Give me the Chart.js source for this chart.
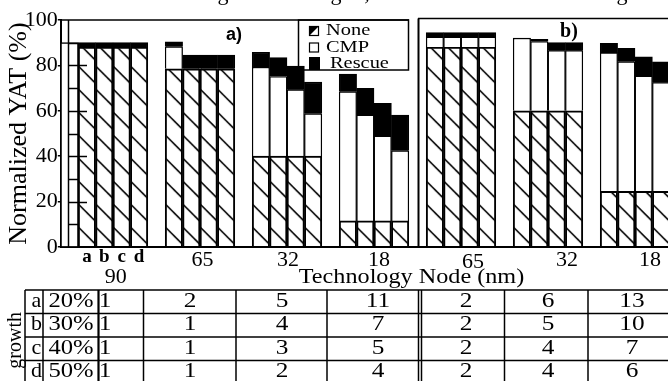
<!DOCTYPE html>
<html>
<head>
<meta charset="utf-8">
<script src="https://cdn.jsdelivr.net/npm/chart.js@4.4.0/dist/chart.umd.min.js"></script>
<style>
  html, body { margin: 0; padding: 0; background: #fff; overflow: hidden; }
  canvas { display: block; }
</style>
</head>
<body>
<canvas id="yat" width="672" height="381"></canvas>
<script>
// Daten: je Technologieknoten 4 Balken (a-d), Reihenfolge None / CMP / Rescue
const nodesA = ['90', '65', '32', '18'];
const nodesB = ['65', '32', '18'];
const barKeys = ['a', 'b', 'c', 'd'];

const noneA   = [88, 88, 88, 88,  78.5, 78.5, 78.5, 78.5,  40, 40, 40, 40,  11.5, 11.5, 11.5, 11.5];
const cmpA    = [0, 0, 0, 0,      9.7, 0, 0, 0,            39.2, 35.1, 29.3, 18.7,  56.9, 46.6, 37.4, 30.9];
const rescueA = [2, 2, 2, 2,      2.2, 6.1, 6.1, 6.1,      6.6, 8.3, 10.4, 13.9,    7.8, 11.8, 14.4, 15.7];

const noneB   = [88, 88, 88, 88,  60, 60, 60, 60,  24.5, 24.5, 24.5, 24.5];
const cmpB    = [4.5, 4.5, 4.5, 4.5,  32, 30.5, 26.5, 26.5,  61.1, 57.1, 50.8, 47.9];
const rescueB = [2, 2, 2, 2,      0, 1, 3.5, 3.5,  4.1, 5.9, 8.5, 9.2];

// weisser Balken links vom 90nm-Block (halb hinter der Achse)
const strayBarCmp = 90;

const seriesNames = ['None', 'CMP', 'Rescue'];

// Tabelle unten
const growthKeys  = ['a', 'b', 'c', 'd'];
const growthRates = ['20%', '30%', '40%', '50%'];
const tableA = [[1, 2, 5, 11], [1, 1, 4, 7], [1, 1, 3, 5], [1, 1, 2, 4]];
const tableB = [[2, 6, 13], [2, 5, 10], [2, 4, 7], [2, 4, 6]];

// Slots aufbauen: pro Knoten 1 Luecke + 4 Balken
const labels = [], none = [], cmp = [], rescue = [];
function addGap(c) {
  labels.push(''); none.push(null); cmp.push(c); rescue.push(null);
}
function addGroup(n, c, r, start) {
  for (let i = 0; i < 4; i++) {
    labels.push(barKeys[i]);
    none.push(n[start + i]); cmp.push(c[start + i]); rescue.push(r[start + i]);
  }
}
nodesA.forEach((_, g) => { addGap(g === 0 ? strayBarCmp : null); addGroup(noneA, cmpA, rescueA, g * 4); });
nodesB.forEach((_, g) => { addGap(null); addGroup(noneB, cmpB, rescueB, g * 4); });

const SERIF = '"Liberation Serif", "Times New Roman", serif';

// Schraffur fuer "None"
function makeHatch() {
  const t = document.createElement('canvas');
  t.width = 87; t.height = 23;
  const g = t.getContext('2d');
  g.strokeStyle = '#000';
  g.lineWidth = 1.6;
  for (let k = 0; k < 5; k++) {
    const x0 = k * 17.4;
    for (const y0 of [-23, 0, 23]) {
      g.beginPath();
      g.moveTo(x0, y0 + 3);
      g.lineTo(x0 + 17.4, y0 + 3 + 17.4);
      g.stroke();
    }
  }
  return g.createPattern(t, 'repeat');
}
const hatch = makeHatch();

// Positionen der Beschriftungen (Layout)
const nodeLabelXA = [115.8, 202.5, 288, 379];
const nodeLabelXB = [473, 567, 650];
const tableColX = [105, 190, 282, 378, 466, 548, 632];
const tableRowY = [290, 313.5, 337, 360.5, 384];
const tableVLines = [25, 43, 143.5, 236, 327, 504.5, 588];

function txt(ctx, s, x, y, font, align, sx) {
  ctx.save();
  ctx.font = font;
  ctx.textAlign = align || 'center';
  ctx.textBaseline = 'alphabetic';
  ctx.translate(x, y);
  if (sx) ctx.scale(sx, 1);
  ctx.fillText(s, 0, 0);
  ctx.restore();
}
function line(ctx, x1, y1, x2, y2, w) {
  ctx.lineWidth = w || 1.5;
  ctx.beginPath(); ctx.moveTo(x1, y1); ctx.lineTo(x2, y2); ctx.stroke();
}

const decor = {
  id: 'decor',
  beforeDatasetsDraw(chart) {
    const { ctx, chartArea } = chart;
    hatch.setTransform(new DOMMatrix([1, 0, 0, 1, chartArea.left, chartArea.bottom]));
    // Legende (wird von den Balken ueberdeckt)
    ctx.save();
    ctx.fillStyle = '#fff'; ctx.strokeStyle = '#000';
    ctx.fillRect(298, 20, 111, 50);
    ctx.lineWidth = 1.5;
    ctx.strokeRect(298.5, 20, 110, 50);
    ctx.lineWidth = 1.2;
    ctx.strokeRect(309.5, 26.5, 9, 9);
    ctx.fillStyle = '#000';
    ctx.beginPath(); ctx.moveTo(309.5, 26.5); ctx.lineTo(318.5, 26.5); ctx.lineTo(309.5, 35.5); ctx.fill();
    ctx.strokeRect(309.5, 43, 9, 9);
    ctx.fillRect(309, 57, 11, 13);
    ctx.fillStyle = '#000';
    txt(ctx, 'None', 326, 35, '17px ' + SERIF, 'left', 1.2);
    txt(ctx, 'CMP', 326, 51.5, '17px ' + SERIF, 'left', 1.2);
    txt(ctx, 'Rescue', 330, 68, '17px ' + SERIF, 'left', 1.2);
    ctx.restore();
  },
  afterDatasetsDraw(chart) {
    const { ctx, scales: { y } } = chart;
    ctx.save();
    ctx.strokeStyle = '#000';
    // Rahmen
    line(ctx, 62, 20, 409, 20, 1.5);
    line(ctx, 68.5, 20, 68.5, 247, 1.5);
    line(ctx, 418.5, 18.5, 418.5, 247, 2);
    line(ctx, 418, 18.5, 672, 18.5, 1.5);
    // Skalenstriche nach innen
    for (let v = 10; v < 100; v += 10) {
      const py = Math.round(y.getPixelForValue(v)) + 0.5;
      line(ctx, 68, py, v % 20 === 0 ? 87 : 78, py, 1.5);
    }
    ctx.restore();
  },
  afterDraw(chart) {
    const { ctx, scales: { x } } = chart;
    ctx.save();
    ctx.fillStyle = '#000'; ctx.strokeStyle = '#000';
    // abgeschnittene Bildunterschrift oben
    ['g', 'g', ',', 'g'].forEach((s, i) => txt(ctx, s, [223, 336, 367, 622][i], 0, '22px ' + SERIF));
    // Panel-Marken
    txt(ctx, 'a)', 234, 40, 'bold 18px "Liberation Sans", Arial, sans-serif');
    txt(ctx, 'b)', 569, 37, 'bold 20px ' + SERIF);
    // a b c d unter dem 90nm-Block
    barKeys.forEach((k, i) => txt(ctx, k, x.getPixelForValue(1 + i), 261.5, 'bold 19px ' + SERIF));
    nodesA.forEach((n, i) => txt(ctx, n, nodeLabelXA[i], i === 0 ? 282.5 : 265.5, '22px ' + SERIF));
    nodesB.forEach((n, i) => txt(ctx, n, nodeLabelXB[i], i === 0 ? 268 : 266, '22px ' + SERIF));
    txt(ctx, 'Technology Node (nm)', 411.5, 283, '22px ' + SERIF, 'center', 1.1);

    // Tabelle
    tableRowY.forEach(ry => line(ctx, 25, ry, 672, ry, 1.5));
    tableVLines.forEach(vx => line(ctx, vx, 290, vx, 381, 1.5));
    line(ctx, 98.5, 290, 98.5, 381, 2.2);
    line(ctx, 418.5, 290, 418.5, 381, 1.5);
    line(ctx, 421.5, 290, 421.5, 381, 1.5);
    const base = [306.5, 330, 353.5, 377];
    growthKeys.forEach((k, r) => {
      txt(ctx, k, 36.5, base[r], '22px ' + SERIF);
      txt(ctx, growthRates[r], 71, base[r], '22px ' + SERIF, 'center', 1.12);
      tableA[r].forEach((v, c) => txt(ctx, String(v), tableColX[c], base[r], '22px ' + SERIF, 'center', 1.15));
      tableB[r].forEach((v, c) => txt(ctx, String(v), tableColX[4 + c], base[r], '22px ' + SERIF, 'center', 1.15));
    });
    ctx.save();
    ctx.translate(21, 312);
    ctx.rotate(-Math.PI / 2);
    ctx.font = '20px ' + SERIF;
    ctx.textAlign = 'right';
    ctx.fillText('growth', 0, 0);
    ctx.restore();
    ctx.restore();
  }
};

const chart = new Chart(document.getElementById('yat'), {
  type: 'bar',
  data: {
    labels: labels,
    datasets: [
      { label: seriesNames[0], data: none,   backgroundColor: hatch,  borderColor: '#000', borderWidth: 1.3 },
      { label: seriesNames[1], data: cmp,    backgroundColor: '#fff', borderColor: '#000', borderWidth: 1.3 },
      { label: seriesNames[2], data: rescue, backgroundColor: '#000', borderColor: '#000', borderWidth: 1.3 }
    ]
  },
  options: {
    responsive: false,
    animation: false,
    barPercentage: 1,
    categoryPercentage: 1,
    layout: { padding: { left: 0, right: 2.2, top: 20, bottom: 134 } },
    plugins: { legend: { display: false }, tooltip: { enabled: false } },
    scales: {
      x: {
        stacked: true,
        grid: { display: false, drawTicks: false },
        ticks: { display: false },
        border: { display: true, color: '#000', width: 2 },
        afterFit: s => { s.height = 0; }
      },
      y: {
        stacked: true,
        min: 0,
        max: 100,
        afterFit: s => { s.width = 60.8; },
        border: { display: true, color: '#000', width: 2 },
        grid: { display: true, drawOnChartArea: false, drawTicks: true, tickLength: 3, color: '#000', lineWidth: 1.5 },
        ticks: { stepSize: 20, color: '#000', padding: 0, font: { family: SERIF, size: 22 } },
        title: {
          display: true,
          text: 'Normalized YAT (%)',
          color: '#000',
          font: { family: SERIF, size: 26 },
          padding: { top: 4, bottom: 0 }
        }
      }
    }
  },
  plugins: [decor]
});
</script>
</body>
</html>
